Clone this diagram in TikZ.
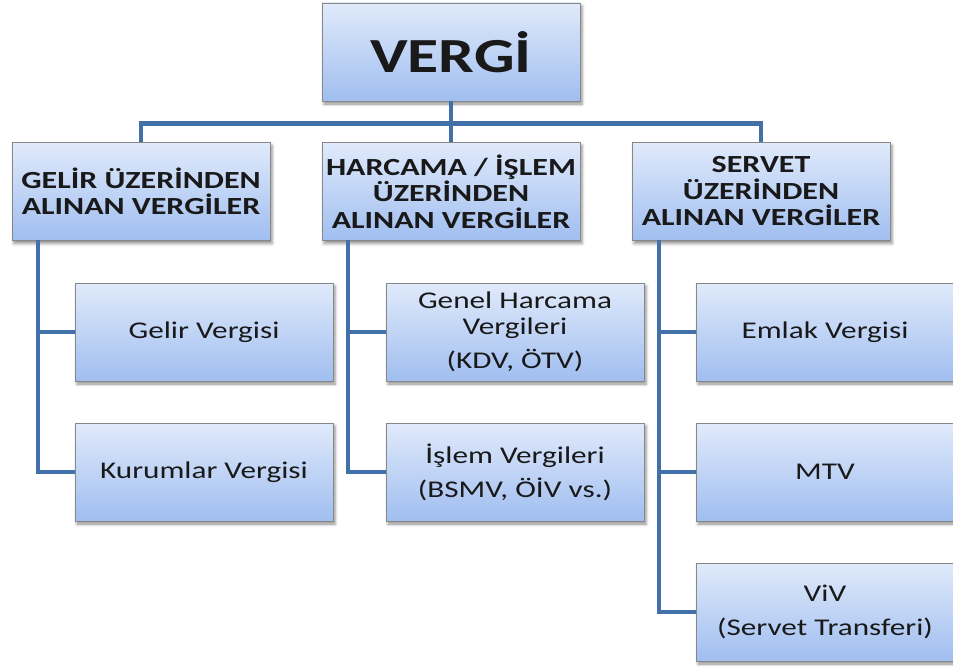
\documentclass[tikz,border=0pt]{standalone}
\usepackage{fontspec}
\setmainfont{Carlito}[FakeStretch=1.3]
\usetikzlibrary{shadows.blur}
\definecolor{linkblue}{RGB}{66,112,168}
\definecolor{boxtop}{RGB}{224,234,251}
\definecolor{boxbottom}{RGB}{160,190,240}
\definecolor{boxedge}{RGB}{135,135,135}
\definecolor{textdark}{RGB}{25,25,25}
\begin{document}
\begin{tikzpicture}[x=1pt,y=-1pt,
  box/.style={draw=boxedge, line width=0.8pt, top color=boxtop, bottom color=boxbottom,
    minimum width=258pt, minimum height=98pt, inner sep=0pt, align=center, text=textdark,
    blur shadow={shadow xshift=2pt, shadow yshift=-3pt, shadow blur radius=3pt, shadow opacity=45}},
  rootfont/.style={font=\bfseries\fontsize{49}{49}\selectfont},
  groupfont/.style={font=\bfseries\fontsize{24.6}{26.5}\selectfont},
  leaffont/.style={font=\fontsize{24}{26}\selectfont},
  link/.style={draw=linkblue, line width=4.5pt, line join=miter}
]
\useasboundingbox (0,0) rectangle (953,669);

% root
\node[box, rootfont] (vergi) at (451,52) {VERGİ};

% groups
\node[box, groupfont] (gelir)   at (141,191.5) {GELİR ÜZERİNDEN\\ALINAN VERGİLER};
\node[box, groupfont] (harcama) at (451,191.5) {HARCAMA / İŞLEM\\ÜZERİNDEN\\ALINAN VERGİLER};
\node[box, groupfont] (servet)  at (761,191.5) {SERVET\\ÜZERİNDEN\\ALINAN VERGİLER};

% leaves
\node[box, leaffont] (gv)  at (204,332) {Gelir Vergisi};
\node[box, leaffont] (kv)  at (204,472) {Kurumlar Vergisi};
\node[box, leaffont] (ghv) at (515,332) {Genel Harcama\\Vergileri\\[8pt](KDV, ÖTV)};
\node[box, leaffont] (iv)  at (515,472) {İşlem Vergileri\\[8pt](BSMV, ÖİV vs.)};
\node[box, leaffont] (ev)  at (825,332) {Emlak Vergisi};
\node[box, leaffont] (mtv) at (825,472) {MTV};
\node[box, leaffont] (viv) at (825,612) {ViV\\[8pt](Servet Transferi)};

% bus from the root to the groups
\coordinate (bus) at (451,123.5);
\draw[link] (vergi.south) -- (bus);
\draw[link] (bus) -| (gelir.north);
\draw[link] (bus) -| (servet.north);
\draw[link] (bus) -- (harcama.north);

% trunks from each group to its leaves
\coordinate (gtrunk) at (38,240);
\coordinate (htrunk) at (348,240);
\coordinate (strunk) at (659,240);
\draw[link] (gtrunk) |- (gv.west);
\draw[link] (gtrunk) |- (kv.west);
\draw[link] (htrunk) |- (ghv.west);
\draw[link] (htrunk) |- (iv.west);
\draw[link] (strunk) |- (ev.west);
\draw[link] (strunk) |- (mtv.west);
\draw[link] (strunk) |- (viv.west);
\end{tikzpicture}
\end{document}
